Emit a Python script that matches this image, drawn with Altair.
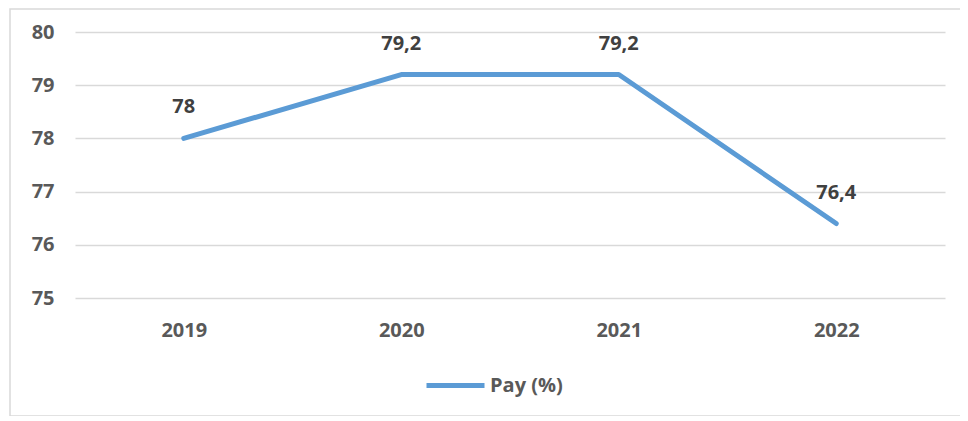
import altair as alt
import pandas as pd

years = ["2019", "2020", "2021", "2022"]
values = [78.0, 79.2, 79.2, 76.4]
value_labels = ["78", "79,2", "79,2", "76,4"]
series_name = "Pay (%)"
y_ticks = [75, 76, 77, 78, 79, 80]

df = pd.DataFrame({
    "Year": years,
    "Value": values,
    "Label": value_labels,
    "Series": [series_name] * len(years),
})

FONT = "Open Sans"
AXIS_GRAY = "#595959"
LINE_BLUE = "#5B9BD5"

base = alt.Chart(df)

x_enc = alt.X(
    "Year:O",
    scale=alt.Scale(padding=0.5),
    axis=alt.Axis(
        title=None, labelAngle=0, domain=False, ticks=False, grid=False,
        labelFontSize=20, labelFont=FONT, labelFontWeight="bold",
        labelColor=AXIS_GRAY, labelPadding=22,
    ),
)
y_enc = alt.Y(
    "Value:Q",
    scale=alt.Scale(domain=[75, 80], zero=False, nice=False),
    axis=alt.Axis(
        title=None, values=y_ticks, domain=False, ticks=False, grid=True,
        gridColor="#D9D9D9", gridWidth=1.5,
        labelFontSize=20, labelFont=FONT, labelFontWeight="bold",
        labelColor=AXIS_GRAY, labelPadding=21,
    ),
)

line = base.mark_line(strokeWidth=5, strokeCap="round", strokeJoin="round").encode(
    x=x_enc,
    y=y_enc,
    color=alt.Color(
        "Series:N",
        scale=alt.Scale(range=[LINE_BLUE]),
        legend=alt.Legend(
            title=None, orient="none", legendX=349, legendY=322,
            symbolType="stroke", symbolSize=3364, symbolStrokeWidth=5,
            labelFontSize=20, labelFont=FONT, labelFontWeight="bold",
            labelColor=AXIS_GRAY, labelOffset=3, padding=0,
        ),
    ),
)

text = base.mark_text(
    dy=-25, baseline="alphabetic", align="center",
    fontSize=20, font=FONT, fontWeight="bold", color="#404040",
).encode(x="Year:O", y="Value:Q", text="Label:N")

border = alt.Chart(alt.Data(values=[{"a": 1}])).mark_rect(
    filled=False, stroke="#D9D9D9", strokeWidth=1.5
).encode(
    x=alt.value(-65), x2=alt.value(900), y=alt.value(-23), y2=alt.value(384)
)

chart = alt.layer(border, line, text).properties(
    width=870, height=266,
    background="white",
    autosize=alt.AutoSizeParams(type="none"),
    padding={"left": 67, "top": 24, "right": 15, "bottom": 118},
).configure_view(stroke=None)

chart.save("out.html", embed_options={"renderer": "svg", "actions": False})
